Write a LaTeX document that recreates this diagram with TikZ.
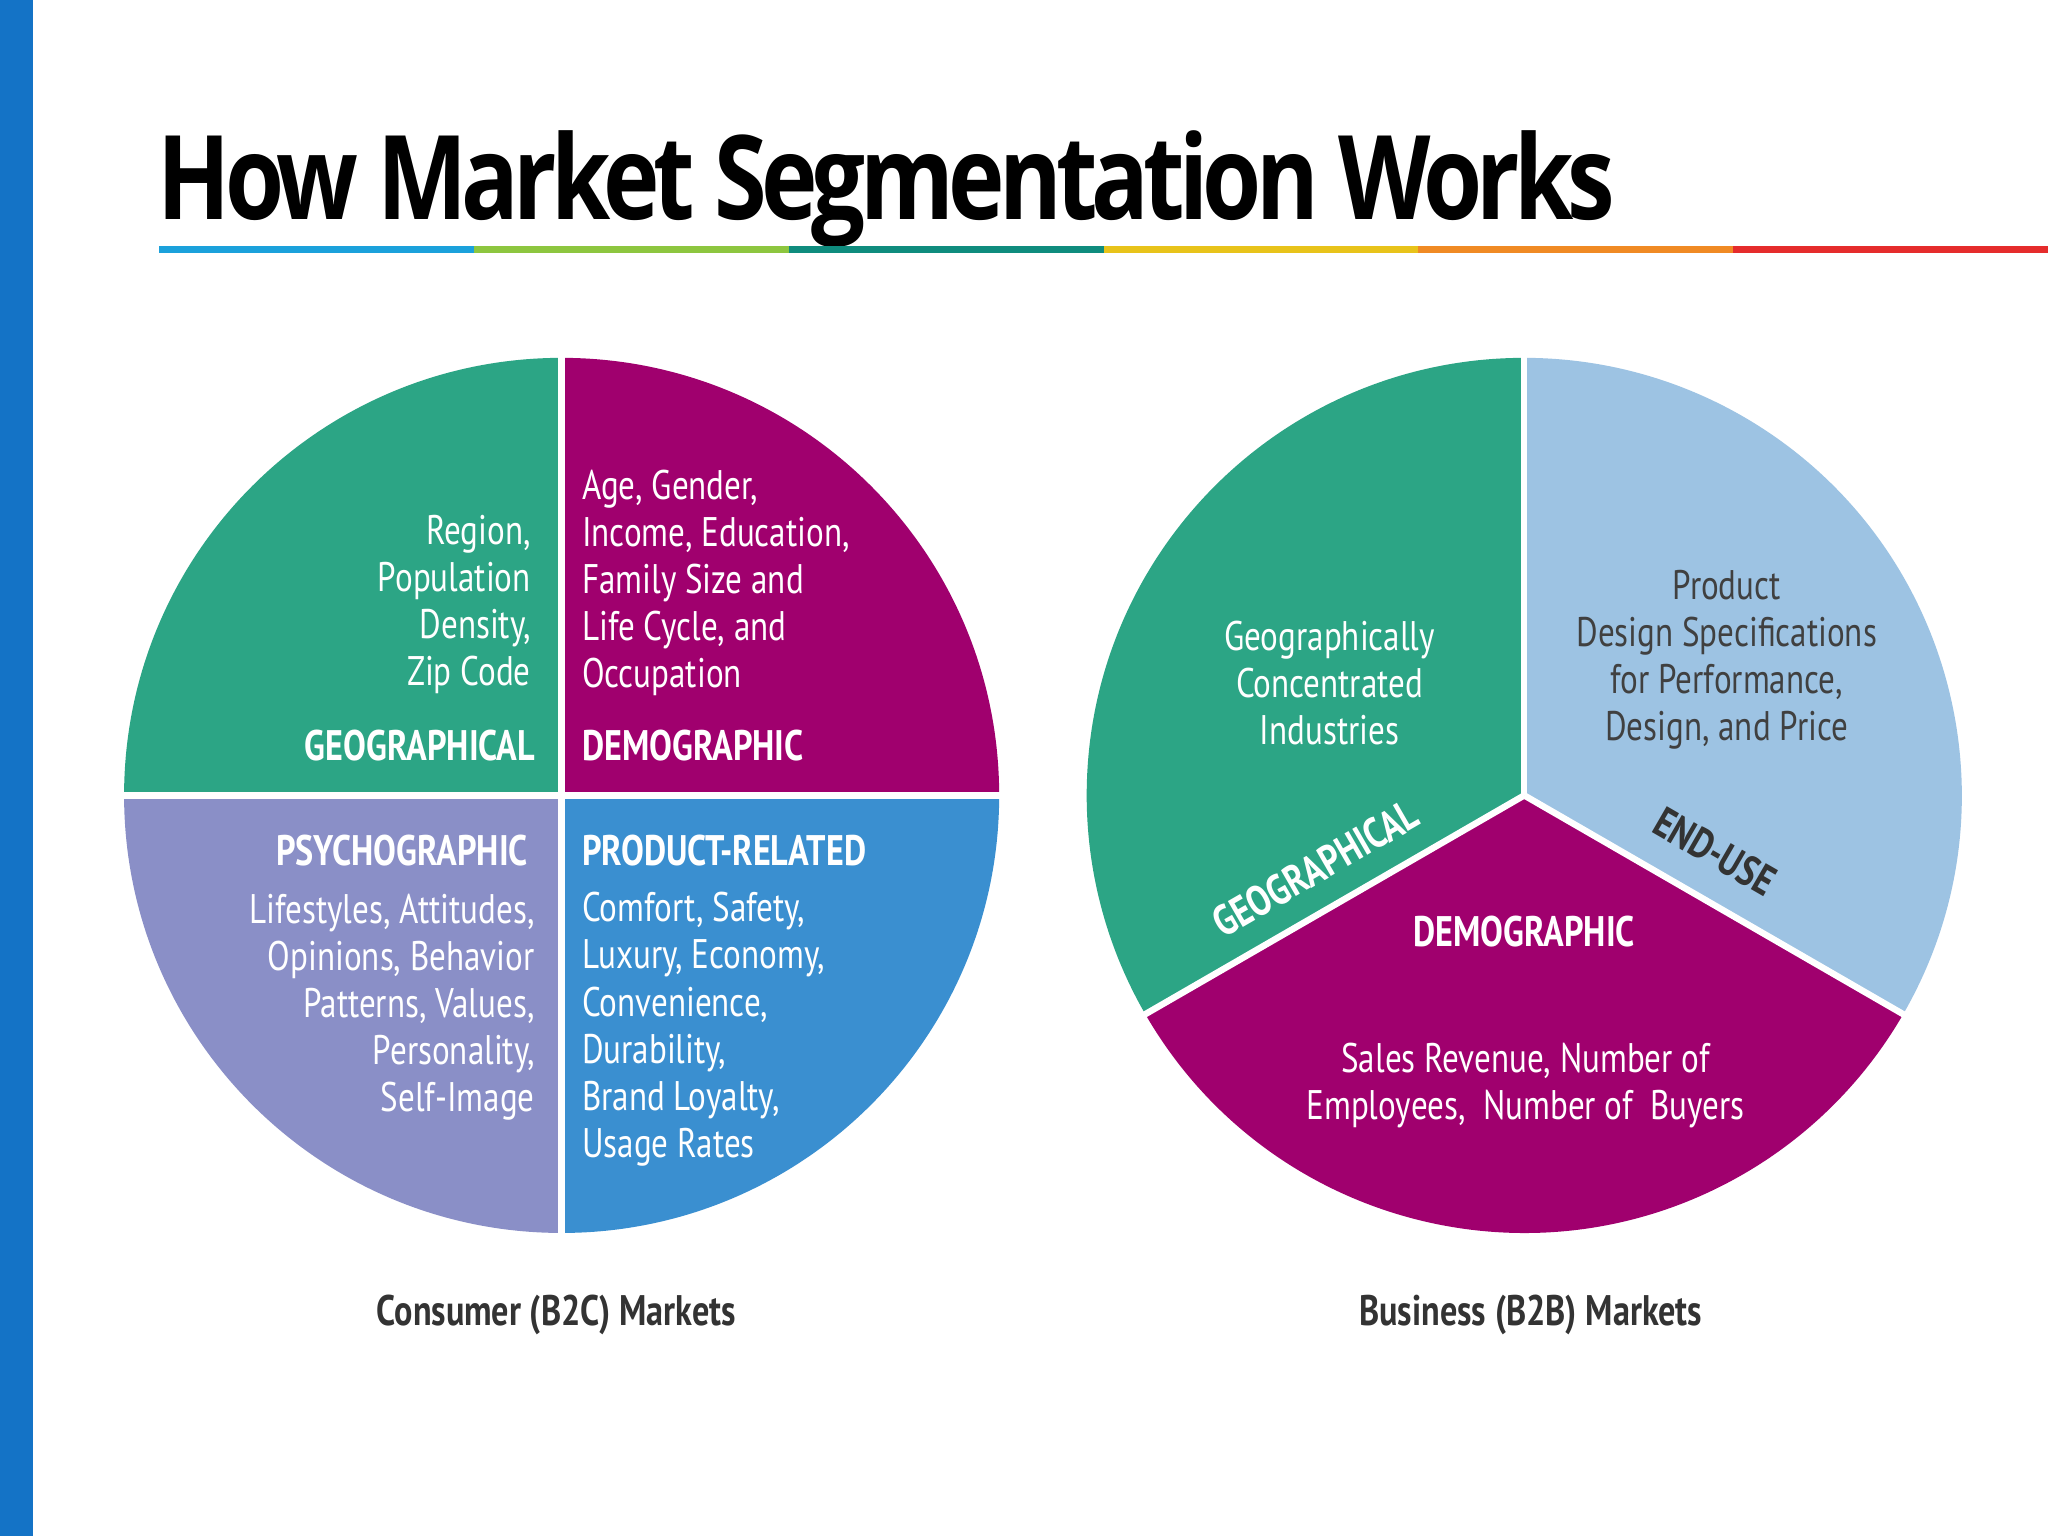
\documentclass[tikz,border=0pt]{standalone}
\usepackage{fontspec}
\usetikzlibrary{calc}
\setmainfont{PT Sans}
\newfontfamily\cond[FakeStretch=0.8]{PT Sans}
\newfontfamily\titlefont{Open Sans}
\definecolor{cgreen}{HTML}{2CA585}
\definecolor{cmag}{HTML}{A0006E}
\definecolor{clav}{HTML}{8A8FC7}
\definecolor{cblue}{HTML}{3A8FD0}
\definecolor{clblue}{HTML}{9DC3E3}
\definecolor{side}{HTML}{1473C6}
\definecolor{l1}{HTML}{1BA1DB}
\definecolor{l2}{HTML}{8DC63F}
\definecolor{l3}{HTML}{0F8C7E}
\definecolor{l4}{HTML}{E8C31A}
\definecolor{l5}{HTML}{F08A24}
\definecolor{l6}{HTML}{E52C2C}
\begin{document}
\begin{tikzpicture}[x=0.01cm,y=0.01cm,
  txt/.style={text=white,font=\cond\fontsize{9}{10.24}\selectfont,inner sep=0pt},
  lab/.style={text=white,font=\cond\bfseries\fontsize{9.3}{10.24}\selectfont,inner sep=0pt},
  captxt/.style={text=black!80,font=\cond\bfseries\fontsize{9.3}{10.24}\selectfont,inner sep=0pt},
  gap/.style={white,line width=1.4pt}]
\useasboundingbox (0,0) rectangle (1568,1176);
\fill[white] (0,0) rectangle (1568,1176);
\fill[side] (0,0) rectangle (25,1176);
\node[anchor=base west,inner sep=0pt] (title) at (120,1008)
  {\resizebox{11.15cm}{0.68cm}{\titlefont\bfseries\addfontfeature{LetterSpace=-6}How Market Segmentation Works}};
\foreach \c [count=\i from 0] in {l1,l2,l3,l4,l5,l6}
  \fill[\c] ({122+\i*241},982) rectangle ({122+(\i+1)*241},988);
% left pie
\coordinate (L) at (430,567);
\fill[cgreen] (L) -- ++(90:335) arc[start angle=90,end angle=180,radius=335] -- cycle;
\fill[cmag] (L) -- ++(0:335) arc[start angle=0,end angle=90,radius=335] -- cycle;
\fill[clav] (L) -- ++(180:335) arc[start angle=180,end angle=270,radius=335] -- cycle;
\fill[cblue] (L) -- ++(270:335) arc[start angle=270,end angle=360,radius=335] -- cycle;
\draw[gap] ($(L)+(0,340)$) -- ($(L)+(0,-340)$);
\draw[gap] ($(L)+(-340,0)$) -- ($(L)+(340,0)$);
\node[txt,align=right,anchor=east] (t1) at (407,713) {Region,\\Population\\Density,\\Zip Code};
\node[lab,anchor=east] (g1) at (410,605) {GEOGRAPHICAL};
\node[txt,align=left,anchor=west] (t2) at (445,730) {Age, Gender,\\Income, Education,\\Family Size and\\Life Cycle, and\\Occupation};
\node[lab,anchor=west] (d1) at (445,605) {DEMOGRAPHIC};
\node[lab,anchor=east] (p1) at (405,525) {PSYCHOGRAPHIC};
\node[txt,align=right,anchor=east] (t3) at (410,405) {Lifestyles, Attitudes,\\Opinions, Behavior\\Patterns, Values,\\Personality,\\Self-Image};
\node[lab,anchor=west] (p2) at (445,525) {PRODUCT-RELATED};
\node[txt,align=left,anchor=west] (t4) at (445,388) {Comfort, Safety,\\Luxury, Economy,\\Convenience,\\Durability,\\Brand Loyalty,\\Usage Rates};
\node[captxt] (c1) at (426,169) {Consumer (B2C) Markets};
% right pie
\coordinate (R) at (1167,567);
\fill[cgreen] (R) -- ++(90:335) arc[start angle=90,end angle=210,radius=335] -- cycle;
\fill[cmag] (R) -- ++(210:335) arc[start angle=210,end angle=330,radius=335] -- cycle;
\fill[clblue] (R) -- ++(330:335) arc[start angle=-30,end angle=90,radius=335] -- cycle;
\draw[gap] (R) -- ++(90:340);
\draw[gap] (R) -- ++(210:340);
\draw[gap] (R) -- ++(330:340);
\node[txt,align=center] (t5) at (1018,653) {Geographically\\Concentrated\\Industries};
\node[txt,align=center,text=black!75] (t6) at (1322,671) {Product\\Design Specifications\\for Performance,\\Design, and Price};
\node[lab,rotate=30] (g2) at (1007,511) {GEOGRAPHICAL};
\node[lab,rotate=-30,text=black!80] (e2) at (1313,524) {END-USE};
\node[lab] (d2) at (1167,463) {DEMOGRAPHIC};
\node[txt,align=center] (t7) at (1168,345) {Sales Revenue, Number of\\Employees,\ \ Number of\ \ Buyers};
\node[captxt] (c2) at (1172,169) {Business (B2B) Markets};
\end{tikzpicture}
\end{document}
